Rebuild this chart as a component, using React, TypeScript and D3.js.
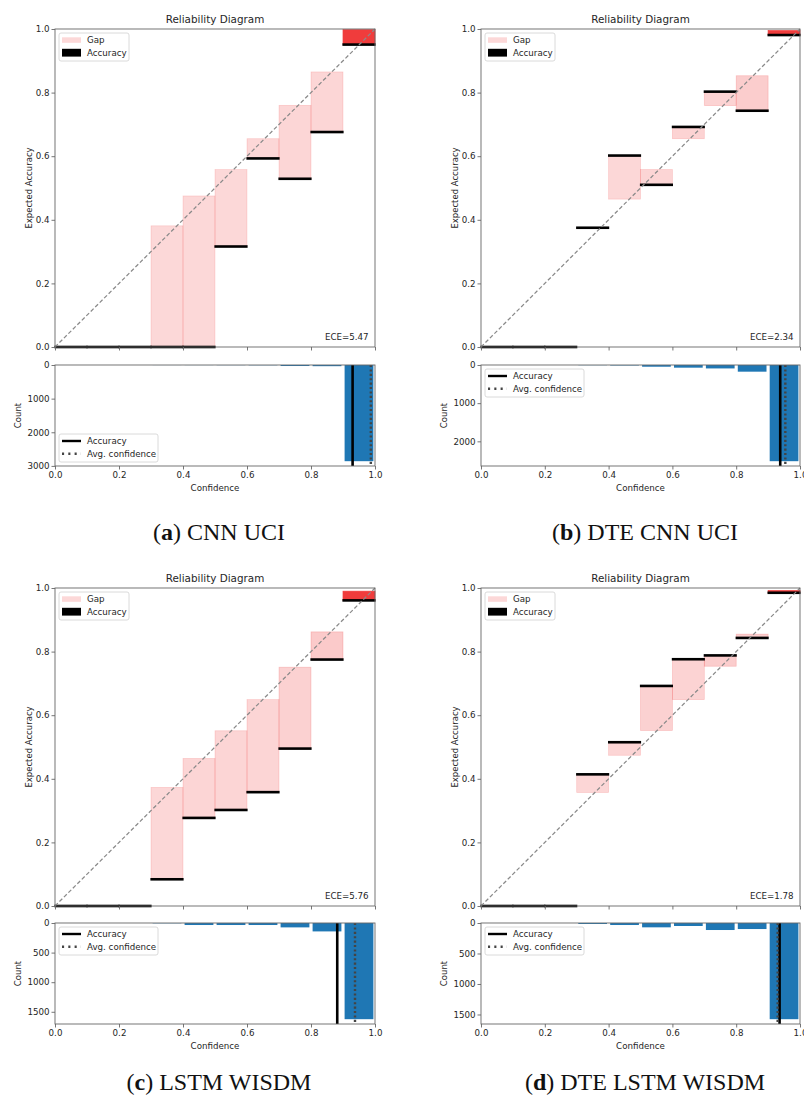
import React, { useEffect, useRef } from "react";
import * as d3 from "d3";

// bin centres shared by all four panels (10 equal bins)
const binCenters = [0.05, 0.15, 0.25, 0.35, 0.45, 0.55, 0.65, 0.75, 0.85, 0.95];
const binWidth = 0.1;

const panelLetters = ["a", "b", "c", "d"];
const captionNames = ["CNN UCI", "DTE CNN UCI", "LSTM WISDM", "DTE LSTM WISDM"];
const eceValues = [5.47, 2.34, 5.76, 1.78];
const avgAccuracy = [0.93, 0.938, 0.882, 0.936];
const avgConfidence = [0.987, 0.954, 0.9375, 0.93];

// (a) CNN UCI
const accuraciesA = [0, 0, 0, 0, 0, 0.316, 0.593, 0.529, 0.676, 0.951];
const confidencesA = [0, 0, 0, 0.381, 0.475, 0.558, 0.655, 0.76, 0.865, 0.998];
const countsA = [0, 0, 0, 2, 3, 5, 8, 30, 35, 2860];

// (b) DTE CNN UCI
const accuraciesB = [0, 0, 0, 0.375, 0.602, 0.51, 0.692, 0.803, 0.743, 0.981];
const confidencesB = [0, 0, 0, 0.376, 0.465, 0.558, 0.655, 0.759, 0.853, 0.995];
const countsB = [0, 0, 0, 5, 12, 45, 70, 90, 175, 2520];

// (c) LSTM WISDM
const accuraciesC = [0, 0, 0, 0.084, 0.277, 0.302, 0.358, 0.495, 0.775, 0.961];
const confidencesC = [0, 0, 0, 0.373, 0.464, 0.551, 0.649, 0.751, 0.862, 0.99];
const countsC = [0, 0, 0, 5, 34, 34, 34, 74, 142, 1625];

// (d) DTE LSTM WISDM
const accuraciesD = [0, 0, 0, 0.414, 0.515, 0.692, 0.776, 0.788, 0.843, 0.985];
const confidencesD = [0, 0, 0, 0.357, 0.474, 0.552, 0.649, 0.754, 0.855, 0.992];
const countsD = [0, 0, 0, 16, 33, 71, 49, 115, 99, 1577];

const reliabilityTicks = [0, 0.2, 0.4, 0.6, 0.8, 1.0];
const histTicksCNN = [0, 1000, 2000, 3000];
const histTicksLSTM = [0, 500, 1000, 1500];

const panels = [
  { acc: accuraciesA, conf: confidencesA, counts: countsA, histTicks: histTicksCNN },
  { acc: accuraciesB, conf: confidencesB, counts: countsB, histTicks: histTicksCNN },
  { acc: accuraciesC, conf: confidencesC, counts: countsC, histTicks: histTicksLSTM },
  { acc: accuraciesD, conf: confidencesD, counts: countsD, histTicks: histTicksLSTM },
];

const layouts = [
  { x0: 55, x1: 375, top: 29, bottom: 347, hTop: 365, hBot: 466, capX: 219, capY: 540, histLegendLow: true },
  { x0: 481, x1: 800, top: 29, bottom: 347, hTop: 365, hBot: 466, capX: 645, capY: 540, histLegendLow: false },
  { x0: 55, x1: 375, top: 588, bottom: 906, hTop: 923, hBot: 1024, capX: 219, capY: 1090, histLegendLow: false },
  { x0: 481, x1: 800, top: 588, bottom: 906, hTop: 923, hBot: 1024, capX: 645, capY: 1090, histLegendLow: false },
];

const FONT = "DejaVu Sans";
const TXT = "#262626";
const SPINE = "#666";

function styleAxis(g: any) {
  g.select(".domain").remove();
  g.selectAll(".tick line").attr("stroke", SPINE).attr("stroke-width", 0.9);
  g.selectAll(".tick text").attr("fill", TXT).attr("font-family", FONT).attr("font-size", 8.7);
}

function drawLegendFrame(g: any, x: number, y: number, w: number, h: number) {
  g.append("rect")
    .attr("x", x).attr("y", y).attr("width", w).attr("height", h)
    .attr("rx", 2)
    .attr("fill", "rgba(255,255,255,0.8)")
    .attr("stroke", "#d0d0d0").attr("stroke-width", 0.8);
}

function drawPanel(svg: any, idx: number) {
  const p = panels[idx];
  const L = layouts[idx];
  const g = svg.append("g");

  const x = d3.scaleLinear().domain([0, 1]).range([L.x0, L.x1]);
  const y = d3.scaleLinear().domain([0, 1]).range([L.bottom, L.top]);
  const maxC = d3.max(p.counts) as number;
  const minC = d3.min(p.counts) as number;
  const histMax = maxC * 1.05;
  const yh = d3.scaleLinear().domain([0, histMax]).range([L.hTop, L.hBot]);
  const alpha = (c: number) => 0.2 + 0.8 * (c - minC) / (maxC - minC);
  const bw = x(binWidth) - x(0);

  // --- reliability diagram ---
  g.append("rect")
    .attr("x", L.x0).attr("y", L.top).attr("width", L.x1 - L.x0).attr("height", L.bottom - L.top)
    .attr("fill", "white");

  g.selectAll("rect.gap")
    .data(binCenters)
    .join("rect")
    .attr("class", "gap")
    .attr("x", (d: number) => x(d - binWidth / 2))
    .attr("width", bw)
    .attr("y", (d: number, i: number) => y(Math.max(p.acc[i], p.conf[i])))
    .attr("height", (d: number, i: number) => y(Math.min(p.acc[i], p.conf[i])) - y(Math.max(p.acc[i], p.conf[i])))
    .attr("fill", (d: number, i: number) => `rgba(240,60,60,${alpha(p.counts[i])})`)
    .attr("stroke", (d: number, i: number) => `rgba(240,60,60,${alpha(p.counts[i])})`)
    .attr("stroke-width", 0.7);

  g.selectAll("rect.acc")
    .data(binCenters)
    .join("rect")
    .attr("class", "acc")
    .attr("x", (d: number) => x(d - binWidth / 2) - 0.6)
    .attr("width", bw + 1.2)
    .attr("y", (d: number, i: number) => y(p.acc[i]) - 1.3)
    .attr("height", 2.6)
    .attr("fill", "black");

  g.append("line")
    .attr("x1", x(0)).attr("y1", y(0)).attr("x2", x(1)).attr("y2", y(1))
    .attr("stroke", "#8a8a8a").attr("stroke-width", 1.25)
    .attr("stroke-dasharray", "4,2.3");

  g.append("text")
    .attr("x", x(0.98)).attr("y", L.bottom - 7)
    .attr("text-anchor", "end")
    .attr("font-family", FONT).attr("font-size", 8.7).attr("fill", TXT)
    .text(`ECE=${eceValues[idx].toFixed(2)}`);

  g.append("rect")
    .attr("x", L.x0).attr("y", L.top).attr("width", L.x1 - L.x0).attr("height", L.bottom - L.top)
    .attr("fill", "none").attr("stroke", SPINE).attr("stroke-width", 0.9);

  g.append("g")
    .attr("transform", `translate(${L.x0},0)`)
    .call(d3.axisLeft(y).tickValues(reliabilityTicks).tickSize(3.5).tickPadding(2).tickFormat(d3.format(".1f")))
    .call(styleAxis);
  g.append("g")
    .attr("transform", `translate(0,${L.bottom})`)
    .call(d3.axisBottom(x).tickValues(reliabilityTicks).tickSize(3.5).tickFormat(() => ""))
    .call(styleAxis);

  g.append("text")
    .attr("x", (L.x0 + L.x1) / 2).attr("y", L.top - 6)
    .attr("text-anchor", "middle")
    .attr("font-family", FONT).attr("font-size", 10.4).attr("fill", TXT)
    .text("Reliability Diagram");

  g.append("text")
    .attr("transform", `translate(${L.x0 - 26},${(L.top + L.bottom) / 2}) rotate(-90)`)
    .attr("text-anchor", "middle").attr("dy", "0.35em")
    .attr("font-family", FONT).attr("font-size", 8.5).attr("fill", TXT)
    .text("Expected Accuracy");

  // legend (Gap / Accuracy)
  const lx = L.x0 + 4, ly = L.top + 4;
  drawLegendFrame(g, lx, ly, 70, 28);
  g.append("rect").attr("x", lx + 3).attr("y", ly + 4.3).attr("width", 19).attr("height", 5.5)
    .attr("fill", `rgba(240,60,60,${alpha(p.counts[0])})`);
  g.append("rect").attr("x", lx + 3).attr("y", ly + 15.8).attr("width", 19).attr("height", 7.8)
    .attr("fill", "black");
  [["Gap", 7], ["Accuracy", 19.7]].forEach(([t, dy]) => {
    g.append("text")
      .attr("x", lx + 28).attr("y", ly + (dy as number)).attr("dy", "0.35em")
      .attr("font-family", FONT).attr("font-size", 8.7).attr("fill", TXT)
      .text(t as string);
  });

  // --- confidence histogram ---
  g.selectAll("rect.hist")
    .data(binCenters)
    .join("rect")
    .attr("class", "hist")
    .attr("x", (d: number) => x(d - binWidth * 0.45))
    .attr("width", x(binWidth * 0.9) - x(0))
    .attr("y", L.hTop)
    .attr("height", (d: number, i: number) => yh(p.counts[i]) - L.hTop)
    .attr("fill", "#1f77b4");

  g.append("line")
    .attr("x1", x(avgAccuracy[idx])).attr("x2", x(avgAccuracy[idx]))
    .attr("y1", L.hTop).attr("y2", L.hBot)
    .attr("stroke", "black").attr("stroke-width", 2.6);
  g.append("line")
    .attr("x1", x(avgConfidence[idx])).attr("x2", x(avgConfidence[idx]))
    .attr("y1", L.hTop).attr("y2", L.hBot)
    .attr("stroke", "#444").attr("stroke-width", 2.4)
    .attr("stroke-dasharray", "2.1,2.3");

  g.append("rect")
    .attr("x", L.x0).attr("y", L.hTop).attr("width", L.x1 - L.x0).attr("height", L.hBot - L.hTop)
    .attr("fill", "none").attr("stroke", SPINE).attr("stroke-width", 0.9);

  g.append("g")
    .attr("transform", `translate(${L.x0},0)`)
    .call(d3.axisLeft(yh)
      .tickValues(p.histTicks.filter((t: number) => t <= histMax))
      .tickSize(3.5).tickPadding(2).tickFormat(d3.format("d")))
    .call(styleAxis);
  g.append("g")
    .attr("transform", `translate(0,${L.hBot})`)
    .call(d3.axisBottom(x).tickValues(reliabilityTicks).tickSize(3.5).tickPadding(2).tickFormat(d3.format(".1f")))
    .call(styleAxis);

  g.append("text")
    .attr("x", (L.x0 + L.x1) / 2).attr("y", L.hBot + 25)
    .attr("text-anchor", "middle")
    .attr("font-family", FONT).attr("font-size", 8.7).attr("fill", TXT)
    .text("Confidence");

  g.append("text")
    .attr("transform", `translate(${L.x0 - 37},${(L.hTop + L.hBot) / 2}) rotate(-90)`)
    .attr("text-anchor", "middle").attr("dy", "0.35em")
    .attr("font-family", FONT).attr("font-size", 8.5).attr("fill", TXT)
    .text("Count");

  // legend (Accuracy / Avg. confidence)
  const hx = L.x0 + 4;
  const hy = L.histLegendLow ? L.hBot - 4 - 28 : L.hTop + 4;
  drawLegendFrame(g, hx, hy, 99, 28);
  g.append("line").attr("x1", hx + 3).attr("x2", hx + 22).attr("y1", hy + 7).attr("y2", hy + 7)
    .attr("stroke", "black").attr("stroke-width", 2.4);
  g.append("line").attr("x1", hx + 3).attr("x2", hx + 22).attr("y1", hy + 19.7).attr("y2", hy + 19.7)
    .attr("stroke", "#444").attr("stroke-width", 2.4).attr("stroke-dasharray", "2.1,4.2");
  [["Accuracy", 7], ["Avg. confidence", 19.7]].forEach(([t, dy]) => {
    g.append("text")
      .attr("x", hx + 28).attr("y", hy + (dy as number)).attr("dy", "0.35em")
      .attr("font-family", FONT).attr("font-size", 8.7).attr("fill", TXT)
      .text(t as string);
  });

  // sub-figure caption
  const cap = g.append("text")
    .attr("x", L.capX).attr("y", L.capY)
    .attr("text-anchor", "middle")
    .attr("font-family", "Liberation Serif").attr("font-size", 24).attr("fill", "#111");
  cap.append("tspan").text("(");
  cap.append("tspan").attr("font-weight", "bold").text(panelLetters[idx]);
  cap.append("tspan").text(`) ${captionNames[idx]}`);
}

export default function App() {
  const svgRef = useRef<SVGSVGElement | null>(null);

  useEffect(() => {
    const svg = d3.select(svgRef.current);
    svg.selectAll("*").remove();
    svg.append("rect").attr("width", 804).attr("height", 1102).attr("fill", "white");
    panels.forEach((_, i) => drawPanel(svg, i));
  }, []);

  return (
    <svg
      ref={svgRef}
      width={804}
      height={1102}
      style={{ position: "absolute", left: 0, top: 0, display: "block" }}
    />
  );
}
